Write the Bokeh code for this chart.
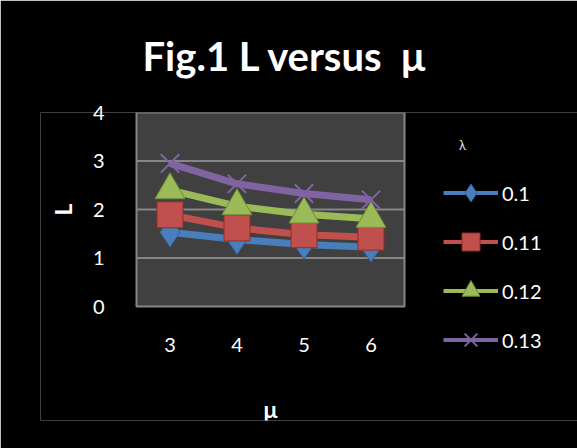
import math
from bokeh.plotting import figure
from bokeh.models import Legend, LegendItem, FixedTicker, Range1d, Label
from bokeh.embed import file_html
from bokeh.resources import INLINE

# service rate (x) and mean number in system L for four arrival rates
mu = [3, 4, 5, 6]
lam_labels = ["0.1", "0.11", "0.12", "0.13"]
L_010 = [1.53, 1.38, 1.28, 1.22]
L_011 = [1.89, 1.62, 1.48, 1.43]
L_012 = [2.40, 2.07, 1.90, 1.81]
L_013 = [2.95, 2.53, 2.33, 2.20]
y_ticks = [0, 1, 2, 3, 4]

FONT = "Lato"
series = [
    (L_010, "#4a7ebb", "#2f5f9a", "diamond", 30, 1),
    (L_011, "#c0504d", "#8e2f2c", "square", 26, 1),
    (L_012, "#9bbb59", "#6f8c35", "triangle", 30, 1),
    (L_013, "#8064a2", "#8064a2", "x", 26, 2),
]

# the frame also holds the legend and the axis titles; the plotting area
# itself is x 2.5..6.5, y 0..4 (left edge at 136 px, bottom at 306 px)
X0, X1 = 2.5, 6.5
Y0, Y1 = 0, 4
PX_X = 67.0     # pixels per x unit
PX_Y = 48.5     # pixels per y unit
AREA_LEFT, AREA_BOTTOM = 136, 306
W, H = 577, 448
F_LEFT, F_TOP, F_BOTTOM = 40, 112, 420

def dx(px):
    return X0 + (px - AREA_LEFT) / PX_X

def dy(py):
    return (AREA_BOTTOM - py) / PX_Y

p = figure(width=W, height=H, output_backend="svg", toolbar_location=None,
           x_range=Range1d(dx(F_LEFT), dx(W)),
           y_range=Range1d(dy(F_BOTTOM), dy(F_TOP)))
p.min_border_left = F_LEFT
p.min_border_right = 0
p.min_border_top = F_TOP
p.min_border_bottom = H - F_BOTTOM

p.border_fill_color = "black"
p.background_fill_color = "black"
p.outline_line_color = None
p.outline_line_alpha = 0
p.xgrid.visible = False
p.ygrid.visible = False

p.title.text = "Fig.1 L versus \u00a0\u03bc"
p.title.align = "left"
p.title.offset = 142 - F_LEFT
p.title.vertical_align = "top"
p.title.text_color = "white"
p.title.text_font = FONT
p.title.text_font_size = "40px"
p.title.text_font_style = "bold"
p.title.standoff = 62

# plotting area and its horizontal gridlines
p.quad(left=[X0], right=[X1], bottom=[Y0], top=[Y1], fill_color="#404040",
       line_color="#868686", line_width=2)
inner = [t for t in y_ticks if Y0 < t < Y1]
p.segment(x0=[X0] * len(inner), x1=[X1] * len(inner), y0=inner, y1=inner,
          line_color="#868686", line_width=2)

for ax in (p.xaxis[0], p.yaxis[0]):
    ax.axis_line_color = None
    ax.major_tick_line_color = None
    ax.minor_tick_line_color = None
    ax.major_label_text_color = "white"
    ax.major_label_text_font = FONT
    ax.major_label_text_font_size = "20px"

# tick labels sit inside the frame, next to the plotting area
p.xaxis.ticker = FixedTicker(ticks=mu)
p.xaxis.bounds = (X0, X1)
p.xaxis.major_label_standoff = 331 - F_BOTTOM

p.yaxis.ticker = FixedTicker(ticks=y_ticks)
p.yaxis.bounds = (Y0, Y1)
p.yaxis.major_label_standoff = F_LEFT - 110

# axis titles
p.add_layout(Label(x=(X0 + X1) / 2, y=dy(408), text="\u03bc", text_color="white",
                   text_font=FONT, text_font_size="23px", text_font_style="bold",
                   text_align="center", text_baseline="alphabetic"))
p.add_layout(Label(x=dx(62), y=(Y0 + Y1) / 2, text="L", angle=math.pi / 2,
                   text_color="white", text_font=FONT, text_font_size="23px",
                   text_font_style="bold", text_align="center",
                   text_baseline="middle"))

nan = float("nan")
items = []
for (vals, color, edge, marker, size, lw), lab in zip(series, lam_labels):
    p.line(mu, vals, line_color=color, line_width=7)
    p.scatter(mu, vals, marker=marker, size=size, fill_color=color,
              line_color=edge, line_width=lw)
    # legend swatches: thinner line and smaller marker, no data of their own
    lg_line = p.line([nan], [nan], line_color=color, line_width=4)
    lg_mark = p.scatter([nan], [nan], marker=marker, size=18, fill_color=color,
                        line_color=edge, line_width=lw)
    items.append(LegendItem(label=lab, renderers=[lg_line, lg_mark]))

legend = Legend(items=items, location=(443 - F_LEFT, F_BOTTOM - 362),
                orientation="vertical",
                glyph_width=55, glyph_height=45, label_height=20, spacing=4,
                label_standoff=4, padding=0, margin=0,
                background_fill_alpha=0, border_line_color=None,
                label_text_color="white", label_text_font=FONT,
                label_text_font_size="20px")
p.add_layout(legend, "center")

# legend heading
p.add_layout(Label(x=dx(462), y=dy(144), text="\u03bb", text_color="#dddddd",
                   text_font=FONT, text_font_size="13px", text_align="center",
                   text_baseline="middle"))

open("out.html", "w").write(file_html(p, INLINE))
